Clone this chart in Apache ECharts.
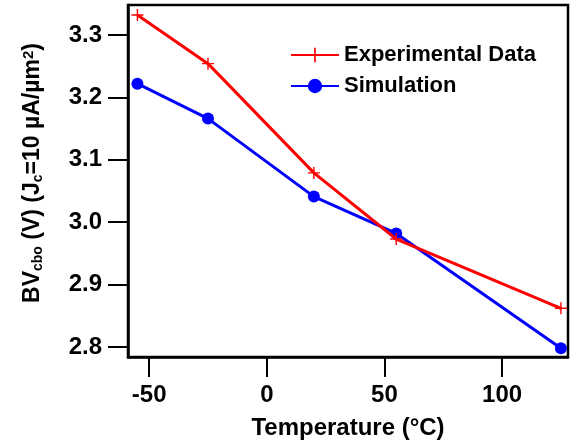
<!DOCTYPE html>
<html>
<head>
<meta charset="utf-8">
<script src="https://cdn.jsdelivr.net/npm/echarts@6/dist/echarts.min.js"></script>
<style>
html,body{margin:0;padding:0;background:#fff;}
#chart{width:573px;height:445px;}
</style>
</head>
<body>
<div id="chart"></div>
<script>
var temperatures = [-55, -25, 20, 55, 125];
var experimental = [3.332, 3.254, 3.079, 2.973, 2.862];
var simulation = [3.222, 3.166, 3.041, 2.982, 2.798];
var xTicks = [-50, 0, 50, 100];
var yTicks = [2.8, 2.9, 3.0, 3.1, 3.2, 3.3];

var FONT = 'Arial, "Liberation Sans", sans-serif';
var plusPath = 'path://M0,5.3H12V6.7H0Z M5.3,0H6.7V12H5.3Z';

function pairs(xs, ys) { return xs.map(function (x, i) { return [x, ys[i]]; }); }

var chart = echarts.init(document.getElementById('chart'), null, { renderer: 'canvas' });
chart.setOption({
  animation: false,
  backgroundColor: '#ffffff',
  grid: {
    left: 128, right: 5, top: 5, bottom: 87,
    show: true, borderColor: '#000', borderWidth: 2.5, backgroundColor: 'transparent'
  },
  legend: {
    orient: 'vertical',
    left: 285, top: 39,
    itemWidth: 48, itemHeight: 18, itemGap: 9,
    textStyle: { fontFamily: FONT, fontSize: 22, fontWeight: 'bold', color: '#000', lineHeight: 22 },
    data: ['Experimental Data', 'Simulation']
  },
  xAxis: {
    type: 'value', min: -59, max: 128,
    name: 'Temperature (°C)', nameLocation: 'middle', nameGap: 59,
    nameTextStyle: { fontFamily: FONT, fontSize: 24, fontWeight: 'bold', color: '#000' },
    axisLine: { show: true, onZero: false, lineStyle: { color: '#000', width: 2.5 } },
    axisTick: { show: true, inside: false, length: 20, customValues: xTicks, lineStyle: { color: '#000', width: 2 } },
    axisLabel: { customValues: xTicks, margin: 26, fontFamily: FONT, fontSize: 24, fontWeight: 'bold', color: '#000' },
    splitLine: { show: false }
  },
  yAxis: {
    type: 'value', min: 2.784, max: 3.348,
    name: 'BV{sub|cbo} (V) (J{sub|c}=10 µA/µm{sup|2})',
    nameLocation: 'middle', nameRotate: 90, nameGap: 83,
    nameTextStyle: {
      fontFamily: FONT, fontSize: 23, fontWeight: 'bold', color: '#000',
      padding: [0, 0, 0, 16],
      rich: {
        sub: { fontFamily: FONT, fontSize: 14, fontWeight: 'bold', color: '#000', verticalAlign: 'bottom', lineHeight: 24 },
        sup: { fontFamily: FONT, fontSize: 15, fontWeight: 'bold', color: '#000', verticalAlign: 'top', lineHeight: 24, padding: [0, 0, 18, 0] }
      }
    },
    axisLine: { show: true, onZero: false, lineStyle: { color: '#000', width: 2.5 } },
    axisTick: { show: true, inside: false, length: 20, customValues: yTicks, lineStyle: { color: '#000', width: 2 } },
    axisLabel: {
      customValues: yTicks, margin: 26, fontFamily: FONT, fontSize: 24, fontWeight: 'bold', color: '#000',
      formatter: function (v) { return v.toFixed(1); }
    },
    splitLine: { show: false }
  },
  series: [
    {
      name: 'Experimental Data', type: 'line',
      data: pairs(temperatures, experimental),
      symbol: plusPath, symbolSize: 12,
      itemStyle: { color: '#ff0000' },
      lineStyle: { color: '#ff0000', width: 3 },
      z: 3
    },
    {
      name: 'Simulation', type: 'line',
      data: pairs(temperatures, simulation),
      symbol: 'circle', symbolSize: 12,
      itemStyle: { color: '#0000ff' },
      lineStyle: { color: '#0000ff', width: 3 },
      z: 2
    }
  ]
});
</script>
</body>
</html>
